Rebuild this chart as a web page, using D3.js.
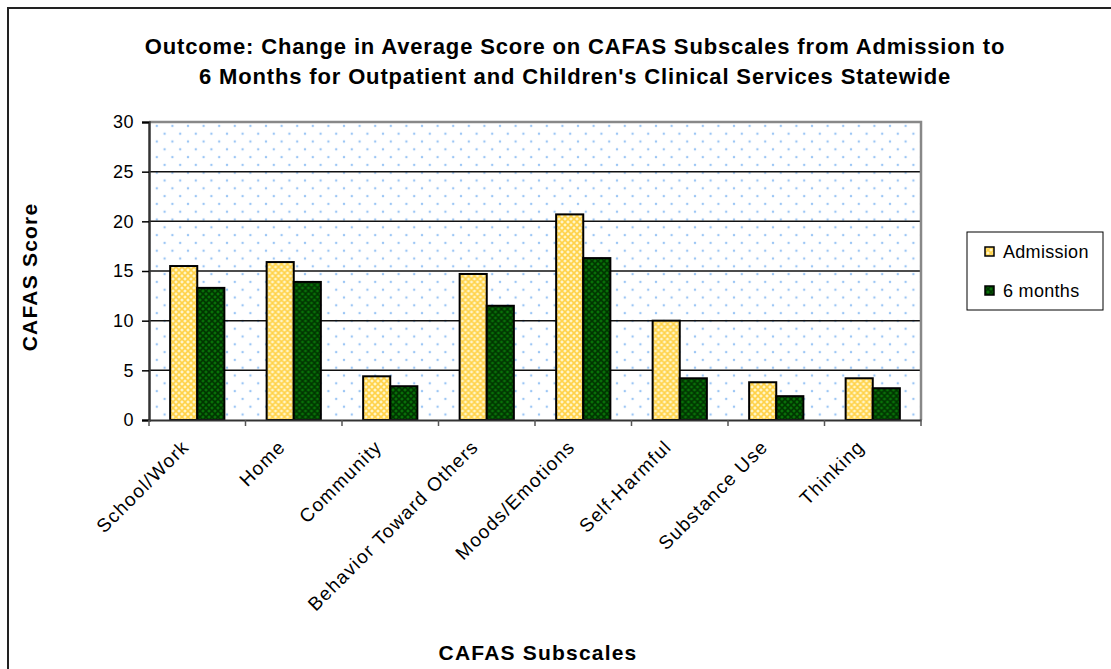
<!DOCTYPE html>
<html>
<head>
<meta charset="utf-8">
<script src="https://cdn.jsdelivr.net/npm/d3@7"></script>
<style>
  body { margin: 0; background: #fff; }
  svg text { font-family: Arial, "Liberation Sans", sans-serif; fill: #000; }
</style>
</head>
<body>
<svg id="chart" width="1111" height="669"></svg>
<script>
// Chart data
const subscales = ['School/Work', 'Home', 'Community', 'Behavior Toward Others',
    'Moods/Emotions', 'Self-Harmful', 'Substance Use', 'Thinking'];
const admission = [15.5, 15.9, 4.4, 14.7, 20.7, 10.0, 3.8, 4.2];
const sixMonths = [13.3, 13.9, 3.4, 11.5, 16.3, 4.2, 2.4, 3.2];
const seriesNames = ['Admission', '6 months'];
const yTicks = [0, 5, 10, 15, 20, 25, 30];

let svg = d3.select('#chart'),
    margin = {left: 149, right: 190, top: 122, bottom: 249},
    w = 1111, h = 669,
    defs = svg.append('defs');

// Outer chart border (runs off the right and bottom)
svg.append('rect')
    .attr('x', 8).attr('y', 8)
    .attr('width', 1120).attr('height', 700)
    .attr('fill', 'none').attr('stroke', '#222').attr('stroke-width', 2);

// Dotted plot background
let dots = defs.append('pattern')
    .attr('id', 'dots')
    .attr('patternUnits', 'userSpaceOnUse')
    .attr('x', 149).attr('y', 122)
    .attr('width', 15.6).attr('height', 15.6);
dots.append('rect').attr('width', 15.6).attr('height', 15.6).attr('fill', '#fff');
dots.append('circle').attr('cx', 7.8).attr('cy', 3.9).attr('r', 1.2).attr('fill', '#9cc6f5');
dots.append('circle').attr('cx', 0).attr('cy', 11.7).attr('r', 1.2).attr('fill', '#9cc6f5');
dots.append('circle').attr('cx', 15.6).attr('cy', 11.7).attr('r', 1.2).attr('fill', '#9cc6f5');

// Cross hatch fills for the bars
function hatch(id, base, line) {
    let p = defs.append('pattern')
        .attr('id', id)
        .attr('patternUnits', 'userSpaceOnUse')
        .attr('width', 6).attr('height', 6);
    p.append('rect').attr('width', 6).attr('height', 6).attr('fill', base);
    p.append('path')
        .attr('d', 'M0,0 L6,6 M6,0 L0,6')
        .attr('stroke', line).attr('stroke-width', 1.6);
}
hatch('hatchYellow', '#fff6c8', '#ffd24a');
hatch('hatchGreen', '#087008', '#003600');
const fills = ['url(#hatchYellow)', 'url(#hatchGreen)'];

let x = d3.scaleBand()
    .domain(subscales)
    .range([margin.left, w - margin.right]);

let xInner = d3.scaleBand()
    .domain(seriesNames)
    .range([0, x.bandwidth()])
    .paddingInner(0)
    .paddingOuter(0.78);

let y = d3.scaleLinear()
    .domain([0, 30])
    .range([h - margin.bottom, margin.top]);

// Plot area
svg.append('rect')
    .attr('x', margin.left).attr('y', margin.top)
    .attr('width', w - margin.right - margin.left)
    .attr('height', h - margin.bottom - margin.top)
    .attr('fill', 'url(#dots)');

// Gridlines
svg.append('g')
    .selectAll('line')
    .data(yTicks.slice(1, -1))
    .enter().append('line')
    .attr('x1', margin.left).attr('x2', w - margin.right)
    .attr('y1', (d) => y(d)).attr('y2', (d) => y(d))
    .attr('stroke', '#111').attr('stroke-width', 1.5);

// Gray frame on top and right
svg.append('path')
    .attr('d', 'M' + margin.left + ',' + y(30) + 'H' + (w - margin.right) + 'V' + y(0))
    .attr('fill', 'none').attr('stroke', '#888').attr('stroke-width', 2.5);

// Bars
let rows = subscales.map((s, i) => ({name: s, values: [admission[i], sixMonths[i]]}));
let groups = svg.append('g')
    .selectAll('g')
    .data(rows)
    .enter().append('g')
    .attr('transform', (d) => 'translate(' + x(d.name) + ',0)');

groups.selectAll('rect')
    .data((d) => d.values.map((v, k) => ({k: k, v: v})))
    .enter().append('rect')
    .attr('x', (d) => xInner(seriesNames[d.k]))
    .attr('y', (d) => y(d.v))
    .attr('width', xInner.bandwidth())
    .attr('height', (d) => y(0) - y(d.v))
    .attr('fill', (d) => fills[d.k])
    .attr('stroke', '#000').attr('stroke-width', 2);

// Y axis
let yAxis = svg.append('g')
    .attr('transform', 'translate(' + margin.left + ',0)')
    .call(d3.axisLeft(y).tickValues(yTicks).tickSize(7).tickPadding(8));
yAxis.select('.domain').attr('stroke', '#333').attr('stroke-width', 2.5);
yAxis.selectAll('.tick line').attr('stroke', '#000').attr('stroke-width', 1.5);
yAxis.selectAll('.tick text')
    .style('font-size', '18px')
    .style('font-family', 'Arial, "Liberation Sans", sans-serif')
    .style('letter-spacing', '0.5px');

// X axis
let xAxis = svg.append('g')
    .attr('transform', 'translate(0,' + y(0) + ')')
    .call(d3.axisBottom(x).tickSize(0).tickPadding(0));
xAxis.select('.domain').attr('stroke', '#333').attr('stroke-width', 2);
xAxis.selectAll('.tick text')
    .style('font-size', '19px')
    .style('font-family', 'Arial, "Liberation Sans", sans-serif')
    .style('letter-spacing', '1.3px')
    .attr('text-anchor', 'end')
    .attr('dy', 0)
    .attr('transform', 'translate(-7,28) rotate(-45)');

// Category separator ticks
svg.append('g')
    .selectAll('line')
    .data(d3.range(subscales.length + 1))
    .enter().append('line')
    .attr('x1', (d) => margin.left + d * x.step())
    .attr('x2', (d) => margin.left + d * x.step())
    .attr('y1', y(0)).attr('y2', y(0) + 6)
    .attr('stroke', '#555').attr('stroke-width', 1.5);

// Title
let title = svg.append('text')
    .attr('x', 575).attr('y', 54)
    .attr('text-anchor', 'middle')
    .style('font-size', '22px').style('font-weight', 'bold')
    .style('letter-spacing', '0.85px');
title.append('tspan').attr('x', 575).text('Outcome: Change in Average Score on CAFAS Subscales from Admission to');
title.append('tspan').attr('x', 575).attr('dy', 30).text('6 Months for Outpatient and Children\'s Clinical Services Statewide');

// Axis titles
svg.append('text')
    .attr('transform', 'translate(37,277) rotate(-90)')
    .attr('text-anchor', 'middle')
    .style('font-size', '21px').style('font-weight', 'bold')
    .style('letter-spacing', '1.2px')
    .text('CAFAS Score');

svg.append('text')
    .attr('x', 538).attr('y', 660)
    .attr('text-anchor', 'middle')
    .style('font-size', '21px').style('font-weight', 'bold')
    .style('letter-spacing', '1.2px')
    .text('CAFAS Subscales');

// Legend
let legend = svg.append('g').attr('transform', 'translate(967,232)');
legend.append('rect')
    .attr('width', 136).attr('height', 78)
    .attr('fill', '#fff').attr('stroke', '#000').attr('stroke-width', 1);
legend.selectAll('g')
    .data(seriesNames)
    .enter().append('g')
    .attr('transform', (d, i) => 'translate(18,' + (15 + i * 39) + ')')
    .each(function (d, i) {
        let g = d3.select(this);
        g.append('rect')
            .attr('width', 9).attr('height', 9)
            .attr('fill', fills[i]).attr('stroke', '#000').attr('stroke-width', 1.5);
        g.append('text')
            .attr('x', 18).attr('y', 11)
            .style('font-size', '18px')
            .style('letter-spacing', '0.3px')
            .text(d);
    });
</script>
</body>
</html>
